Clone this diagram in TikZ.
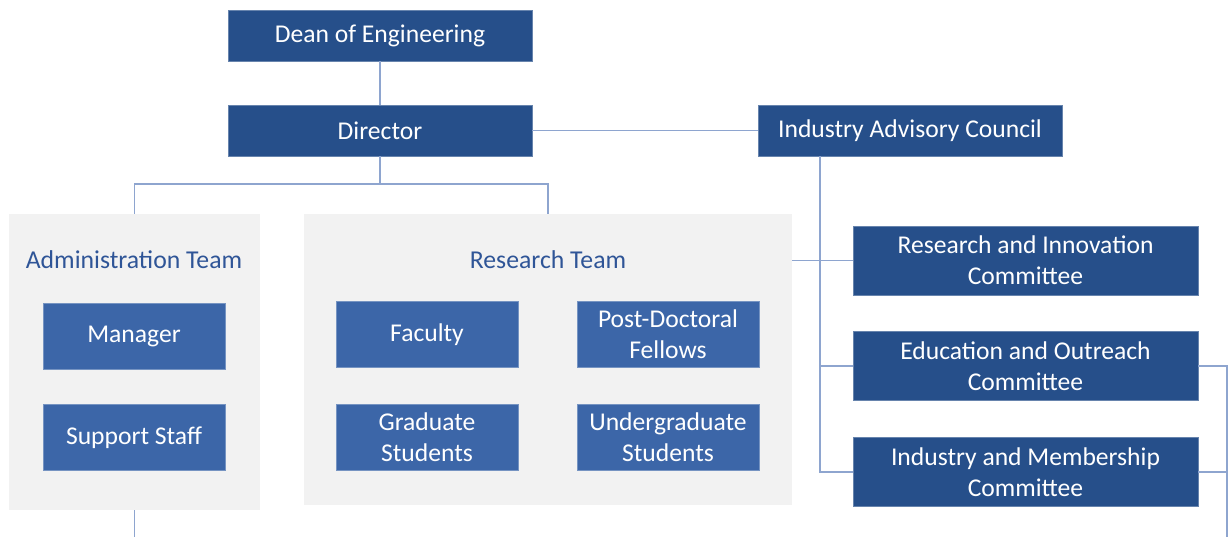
\documentclass[tikz,border=0pt]{standalone}
\usepackage{fontspec}
\setmainfont{Carlito}
\definecolor{darkb}{HTML}{264F8A}
\definecolor{midb}{HTML}{3C66A8}
\definecolor{titleb}{HTML}{2F5597}
\definecolor{panel}{HTML}{F2F2F2}
\definecolor{conn}{HTML}{8EA5CF}
\begin{document}
\begin{tikzpicture}[x=0.75pt,y=-0.75pt,
  txt/.style={font=\fontsize{19.2}{23.2}\selectfont, text=white, align=center, inner sep=0pt},
  darkbox/.style={txt, fill=darkb, draw=darkb!70!white, line width=0.4pt},
  midbox/.style={txt, fill=midb, draw=midb!70!white, line width=0.4pt, minimum width=136.5pt, minimum height=49.5pt},
  topbox/.style={darkbox, minimum width=228pt, minimum height=38.25pt},
  combox/.style={darkbox, minimum width=258.75pt, minimum height=51.75pt},
  panelbox/.style={fill=panel, draw=none, inner sep=0pt},
  paneltitle/.style={font=\fontsize{19.3}{22}\selectfont, text=titleb, inner sep=0pt},
  link/.style={draw=conn, line width=0.9pt}]
\useasboundingbox (0,0) rectangle (1230,537);
% panels
\node[panelbox, minimum width=188.25pt, minimum height=222pt] (admin) at (134.5,362) {};
\node[panelbox, minimum width=366pt, minimum height=218.25pt] (research) at (548,359.5) {};
\node[paneltitle] (admint) at (134,260) {Administration Team};
\node[paneltitle] (researcht) at (548,260) {Research Team};
% top boxes
\node[topbox] (dean) at (380,35.5) {Dean of Engineering};
\node[topbox] (dir) at (380,130.5) {Director};
\node[topbox] (iac) at (910,130.5) {Industry Advisory Council};
% inner boxes
\node[midbox] (mgr) at (134,336) {Manager};
\node[midbox] (staff) at (134,437.5) {Support Staff};
\node[midbox] (fac) at (427,334.5) {Faculty};
\node[midbox] (post) at (668,334.5) {Post-Doctoral\\Fellows};
\node[midbox] (grad) at (427,437.5) {Graduate\\Students};
\node[midbox] (ugrad) at (668,437.5) {Undergraduate\\Students};
% committees
\node[combox] (c1) at (1025.5,260.5) {Research and Innovation\\Committee};
\node[combox] (c2) at (1025.5,366) {Education and Outreach\\Committee};
\node[combox] (c3) at (1025.5,472) {Industry and Membership\\Committee};
% coordinates
\coordinate (bus) at (380,184);
\coordinate (iacbus) at (820,156);
\coordinate (rbus) at (1227,537);
\coordinate (abot) at (134.5,537);
% connectors
\draw[link] (dean.south) -- (dir.north);
\draw[link] (dir.east) -- (iac.west);
\draw[link] (dir.south) -- (bus) -| (admin.north);
\draw[link] (bus) -| (research.north);
\draw[link] (iacbus) |- (c3.west);
\draw[link] (iacbus |- c2.west) -- (c2.west);
\draw[link] (research.east |- c1.west) -- (c1.west);
\draw[link] (c2.east) -| (rbus);
\draw[link] (c3.east) -- (c3.east -| rbus);
\draw[link] (admin.south) -- (abot);
\end{tikzpicture}
\end{document}
